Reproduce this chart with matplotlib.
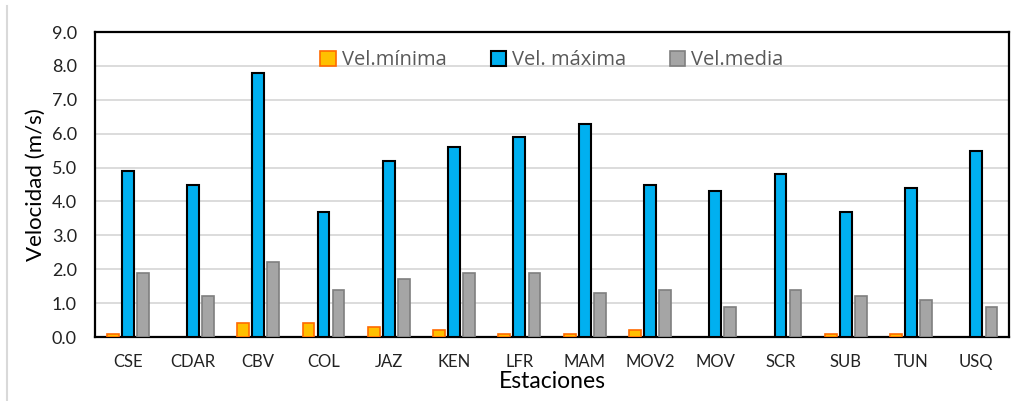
import matplotlib
matplotlib.use("Agg")
import matplotlib.pyplot as plt
import numpy as np

estaciones = ["CSE", "CDAR", "CBV", "COL", "JAZ", "KEN", "LFR", "MAM",
              "MOV2", "MOV", "SCR", "SUB", "TUN", "USQ"]
vel_minima = [0.1, 0.0, 0.4, 0.4, 0.3, 0.2, 0.1, 0.1, 0.2, 0.0, 0.0, 0.1, 0.1, 0.0]
vel_maxima = [4.9, 4.5, 7.8, 3.7, 5.2, 5.6, 5.9, 6.3, 4.5, 4.3, 4.8, 3.7, 4.4, 5.5]
vel_media = [1.9, 1.2, 2.2, 1.4, 1.7, 1.9, 1.9, 1.3, 1.4, 0.9, 1.4, 1.2, 1.1, 0.9]
y_ticks = [0, 1, 2, 3, 4, 5, 6, 7, 8, 9]

plt.rcParams["font.family"] = ["Lato", "DejaVu Sans"]

fig = plt.figure(figsize=(10.25, 4.01), dpi=100)
ax = fig.add_axes([0.0927, 0.1596, 0.8917, 0.7604])

x = np.arange(len(estaciones))
w = 0.18
step = 0.23


def draw(vals, offset, **kw):
    # zero values are not drawn (Excel shows nothing for them)
    vals = np.array(vals)
    mask = vals > 0
    return ax.bar(x[mask] + offset, vals[mask], w, zorder=3, **kw)


draw(vel_minima, -step, color="#FFC000", edgecolor="#FF6A00", linewidth=1.2,
     label="Vel.mínima")
draw(vel_maxima, 0, color="#00B0F0", edgecolor="black", linewidth=1.5,
     label="Vel. máxima")
draw(vel_media, step, color="#A5A5A5", edgecolor="#7F7F7F", linewidth=1.2,
     label="Vel.media")

ax.set_xlim(-0.5, len(estaciones) - 0.5)
ax.set_ylim(0, 9)
ax.set_yticks(y_ticks)
ax.set_yticklabels([f"{v:.1f}" for v in y_ticks], fontsize=13)
ax.set_xticks(x)
ax.set_xticklabels(estaciones, fontsize=12)
ax.tick_params(axis="both", length=0, colors="#222222")
ax.tick_params(axis="y", pad=13)
ax.tick_params(axis="x", pad=12)
ax.grid(axis="y", color="#D9D9D9", linewidth=1.3, zorder=0)
for s in ax.spines.values():
    s.set_linewidth(1.6)
    s.set_color("black")

ax.set_ylabel("Velocidad (m/s)", fontsize=16, labelpad=4)
ax.set_xlabel("Estaciones", fontsize=16.5, labelpad=1)

leg = ax.legend(loc="upper center", bbox_to_anchor=(0.5, 1.0), ncol=3, frameon=False,
                handlelength=0.75, handleheight=0.75, handletextpad=0.3,
                columnspacing=2.2, prop={"family": ["Open Sans", "DejaVu Sans"], "size": 14.5})
for t in leg.get_texts():
    t.set_color("#595959")

fig.add_artist(plt.Line2D([0.0068, 0.0068], [0, 0.985], color="#D9D9D9", linewidth=1.5))

fig.savefig("out.png", dpi=100)
